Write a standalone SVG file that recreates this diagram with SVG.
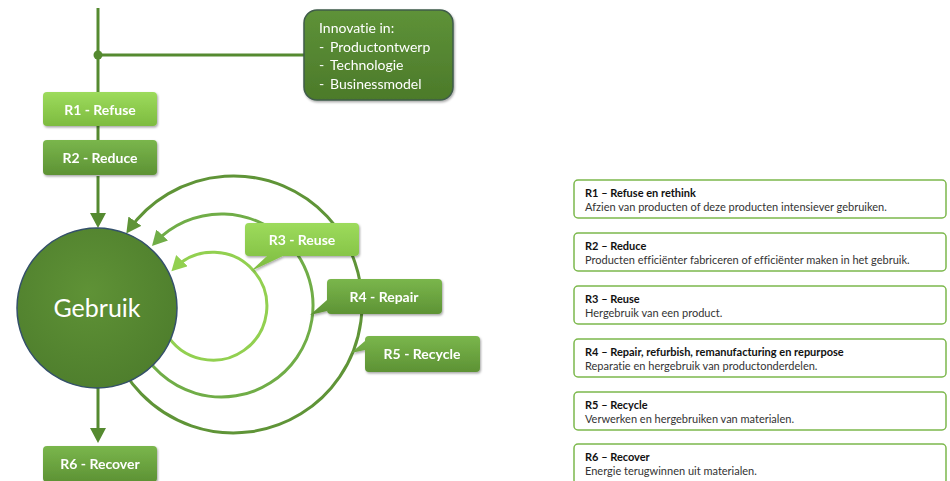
<svg xmlns="http://www.w3.org/2000/svg" width="950" height="481" viewBox="0 0 950 481">
<defs>
<style>
text{font-variant-ligatures:none}
.lbl{font-family:Lato,"Liberation Sans",sans-serif;font-weight:bold;font-size:14px;fill:#fff;text-anchor:middle}
.inn{font-family:Lato,"Liberation Sans",sans-serif;font-size:14px;fill:#fff}
.ttl{font-family:Lato,"Liberation Sans",sans-serif;font-weight:bold;font-size:11px;fill:#111}
.dsc{font-family:Lato,"Liberation Sans",sans-serif;font-size:11px;fill:#333}
.card{fill:#fff;stroke:#7cb84c;stroke-width:1.5}
.conn{fill:none;stroke:#558a30;stroke-width:3}
.light{fill:url(#gLight)}
.med{fill:url(#gMed)}
</style>
<linearGradient id="gLight" x1="0" y1="0" x2="0" y2="1">
<stop offset="0" stop-color="#9ddb5c"/><stop offset="1" stop-color="#7dbb3f"/>
</linearGradient>
<linearGradient id="gMed" x1="0" y1="0" x2="0" y2="1">
<stop offset="0" stop-color="#7ab64c"/><stop offset="1" stop-color="#5d9234"/>
</linearGradient>
<linearGradient id="gDark" x1="0" y1="0" x2="0" y2="1">
<stop offset="0" stop-color="#5e9238"/><stop offset="1" stop-color="#4c7a2a"/>
</linearGradient>
<radialGradient id="gCirc" cx="0.45" cy="0.4" r="0.6">
<stop offset="0" stop-color="#5f9236"/><stop offset="1" stop-color="#4f7f2d"/>
</radialGradient>
<filter id="sh" x="-10%" y="-10%" width="120%" height="130%">
<feDropShadow dx="1" dy="1.5" stdDeviation="1.2" flood-color="#000" flood-opacity="0.35"/>
</filter>
<marker id="aDark" markerUnits="userSpaceOnUse" markerWidth="16" markerHeight="18" refX="11" refY="8" orient="auto"><path d="M0,0 L15,8 L0,16 z" fill="#558a30"/></marker>
<marker id="aOut" markerUnits="userSpaceOnUse" markerWidth="16" markerHeight="18" refX="11" refY="8" orient="auto"><path d="M0,0 L15,8 L0,16 z" fill="#5f9437"/></marker>
<marker id="aMid" markerUnits="userSpaceOnUse" markerWidth="16" markerHeight="18" refX="11" refY="8" orient="auto"><path d="M0,0 L15,8 L0,16 z" fill="#70ad47"/></marker>
<marker id="aIn" markerUnits="userSpaceOnUse" markerWidth="16" markerHeight="18" refX="11" refY="8" orient="auto"><path d="M0,0 L15,8 L0,16 z" fill="#92d050"/></marker>
</defs>

<g id="connectors">
<line class="conn" x1="98" y1="8" x2="98" y2="92"/>
<line class="conn" x1="98" y1="55" x2="305" y2="55"/>
<circle cx="98" cy="55" r="4.5" fill="#558a30"/>
<line class="conn" x1="98" y1="126" x2="98" y2="140"/>
<line class="conn" x1="98" y1="176" x2="98" y2="224" marker-end="url(#aDark)"/>
<line class="conn" x1="98" y1="388" x2="98" y2="439" marker-end="url(#aDark)"/>
<path d="M112.8,348.5 A128.5,128.5 0 1 0 128.6,230.2" fill="none" stroke="#5f9437" stroke-width="3" marker-end="url(#aOut)"/>
<path d="M138.6,344.2 A91.5,91.5 0 1 0 154.7,243.0" fill="none" stroke="#70ad47" stroke-width="3" marker-end="url(#aMid)"/>
<path d="M166,333 A54,54 0 1 0 174.2,268.5" fill="none" stroke="#92d050" stroke-width="3" marker-end="url(#aIn)"/>
</g>

<g id="innovatie" filter="url(#sh)">
<rect x="304" y="10" width="149" height="90" rx="13" fill="url(#gDark)" stroke="#3f5c4a" stroke-width="1.5"/>
<text class="inn" x="319" y="33">Innovatie in:</text>
<text class="inn" x="319" y="52">-</text><text class="inn" x="330" y="52">Productontwerp</text>
<text class="inn" x="319" y="70">-</text><text class="inn" x="330" y="70">Technologie</text>
<text class="inn" x="319" y="89">-</text><text class="inn" x="330" y="89">Businessmodel</text>
</g>

<g id="r1" filter="url(#sh)">
<rect class="light" x="43" y="92" width="114" height="34" rx="4"/>
<text class="lbl" x="100" y="115">R1 - Refuse</text>
</g>
<g id="r2" filter="url(#sh)">
<rect class="med" x="43" y="140" width="114" height="35" rx="4"/>
<text class="lbl" x="100" y="163">R2 - Reduce</text>
</g>

<g id="gebruik">
<circle cx="97" cy="308" r="80" fill="url(#gCirc)" stroke="#34506a" stroke-width="1.5"/>
<text x="97" y="317" text-anchor="middle" font-family="Lato,'Liberation Sans',sans-serif" font-size="25" fill="#fff">Gebruik</text>
</g>

<g id="r6" filter="url(#sh)">
<rect class="med" x="43" y="446" width="114" height="36" rx="4"/>
<text class="lbl" x="100" y="469">R6 - Recover</text>
</g>

<g id="r3" filter="url(#sh)">
<path class="light" d="M249,223 H355 Q359,223 359,227 V252 Q359,256 355,256 H283 L251,271 L267,256 H249 Q245,256 245,252 V227 Q245,223 249,223 Z"/>
<text class="lbl" x="302" y="245">R3 - Reuse</text>
</g>
<g id="r4" filter="url(#sh)">
<path class="med" d="M331,279 H438 Q442,279 442,283 V310 Q442,314 438,314 H331 Q327,314 327,310 V311 L310,315 L327,300 V283 Q327,279 331,279 Z"/>
<text class="lbl" x="384" y="302">R4 - Repair</text>
</g>
<g id="r5" filter="url(#sh)">
<path class="med" d="M369,336 H476 Q480,336 480,340 V368 Q480,372 476,372 H369 Q365,372 365,368 V350 L351,353 L365,341 V340 Q365,336 369,336 Z"/>
<text class="lbl" x="422" y="359">R5 - Recycle</text>
</g>

<g id="legend">
<g id="leg-r1"><rect class="card" x="574" y="180" width="372" height="38" rx="4"/>
<text class="ttl" x="585" y="197">R1 – Refuse en rethink</text>
<text class="dsc" x="585" y="211">Afzien van producten of deze producten intensiever gebruiken.</text></g>
<g id="leg-r2"><rect class="card" x="574" y="233" width="372" height="38" rx="4"/>
<text class="ttl" x="585" y="250">R2 – Reduce</text>
<text class="dsc" x="585" y="264">Producten efficiënter fabriceren of efficiënter maken in het gebruik.</text></g>
<g id="leg-r3"><rect class="card" x="574" y="286" width="372" height="38" rx="4"/>
<text class="ttl" x="585" y="303">R3 – Reuse</text>
<text class="dsc" x="585" y="317">Hergebruik van een product.</text></g>
<g id="leg-r4"><rect class="card" x="574" y="339" width="372" height="38" rx="4"/>
<text class="ttl" x="585" y="356">R4 – Repair, refurbish, remanufacturing en repurpose</text>
<text class="dsc" x="585" y="370">Reparatie en hergebruik van productonderdelen.</text></g>
<g id="leg-r5"><rect class="card" x="574" y="392" width="372" height="38" rx="4"/>
<text class="ttl" x="585" y="409">R5 – Recycle</text>
<text class="dsc" x="585" y="423">Verwerken en hergebruiken van materialen.</text></g>
<g id="leg-r6"><rect class="card" x="574" y="444" width="372" height="40" rx="4"/>
<text class="ttl" x="585" y="461">R6 – Recover</text>
<text class="dsc" x="585" y="475">Energie terugwinnen uit materialen.</text></g>
</g>
</svg>
